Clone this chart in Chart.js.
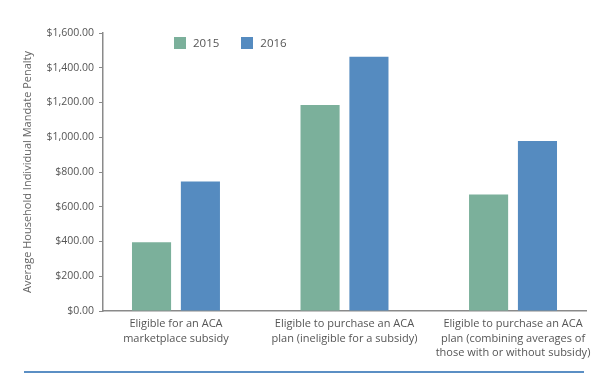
<!DOCTYPE html>
<html>
<head>
<meta charset="utf-8">
<script src="https://cdn.jsdelivr.net/npm/chart.js@4.4.1/dist/chart.umd.min.js"></script>
<style>
    html, body { margin: 0; padding: 0; background: #fff; }
    #wrap { position: relative; width: 600px; height: 377px; }
    #legend {
        position: absolute; left: 174px; top: 35px;
        font-family: 'Open Sans', sans-serif; font-size: 11.5px; color: #555;
        display: flex; gap: 22px;
    }
    #legend span.item { display: flex; align-items: center; }
    #legend span.box { width: 12px; height: 12px; margin-right: 7px; display: inline-block; }
    #rule { position: absolute; left: 24px; top: 371px; width: 560px; height: 2px; background: #5b8fc4; }
</style>
</head>
<body>
<div id="wrap">
    <canvas id="chart"></canvas>
    <div id="legend"></div>
    <div id="rule"></div>
</div>
<script>
    // Chart data
    const categories = [
        ['Eligible for an ACA', 'marketplace subsidy'],
        ['Eligible to purchase an ACA', 'plan (ineligible for a subsidy)'],
        ['Eligible to purchase an ACA', 'plan (combining averages of', 'those with or without subsidy)']
    ];
    const years = ['2015', '2016'];
    const values2015 = [395, 1185, 670];
    const values2016 = [745, 1463, 978];
    const yTicks = [0, 200, 400, 600, 800, 1000, 1200, 1400, 1600];
    const colors = ['#7bb09b', '#558bc0'];

    const font = "'Open Sans', sans-serif";

    function toPoints(values) {
        return values.map((v, i) => ({ x: i, y: v }));
    }

    function formatMoney(v) {
        return '$' + v.toLocaleString('en-US', { minimumFractionDigits: 2, maximumFractionDigits: 2 });
    }

    // Legend drawn as html so it can sit inside the plot
    const legend = document.getElementById('legend');
    years.forEach((y, i) => {
        const item = document.createElement('span');
        item.className = 'item';
        item.innerHTML = '<span class="box" style="background:' + colors[i] + '"></span>' + y;
        legend.appendChild(item);
    });

    const ctx = document.getElementById('chart').getContext('2d');
    new Chart(ctx, {
        type: 'bar',
        data: {
            datasets: [
                { label: years[0], data: toPoints(values2015), backgroundColor: colors[0] },
                { label: years[1], data: toPoints(values2016), backgroundColor: colors[1] }
            ]
        },
        options: {
            responsive: true,
            maintainAspectRatio: false,
            animation: false,
            datasets: { bar: { categoryPercentage: 0.58, barPercentage: 0.8 } },
            layout: { padding: { top: 33, right: 14, bottom: 6, left: 0 } },
            plugins: { legend: { display: false }, tooltip: { enabled: false } },
            scales: {
                x: {
                    type: 'linear',
                    offset: false,
                    min: -0.433,
                    max: 2.433,
                    afterFit: s => { s.height = 60; },
                    grid: { display: false },
                    border: { color: '#8a8a8a', width: 1.5 },
                    ticks: {
                        stepSize: 1,
                        includeBounds: false,
                        autoSkip: false,
                        maxRotation: 0,
                        padding: -2,
                        color: '#555',
                        font: { family: font, size: 11, lineHeight: 1.3 },
                        callback: v => Number.isInteger(v) && categories[v] ? categories[v] : ''
                    }
                },
                y: {
                    min: 0,
                    max: 1600,
                    afterFit: s => { s.width = 103; },
                    afterBuildTicks: s => { s.ticks = yTicks.map(v => ({ value: v })); },
                    grid: { drawOnChartArea: false, tickLength: 4, color: '#8a8a8a' },
                    border: { color: '#8a8a8a', width: 1.5 },
                    ticks: {
                        padding: 5,
                        color: '#555',
                        font: { family: font, size: 10.5 },
                        callback: v => formatMoney(v)
                    },
                    title: {
                        display: true,
                        text: 'Average Household Individual Mandate Penalty',
                        color: '#666',
                        font: { family: font, size: 11 },
                        padding: { top: 21 }
                    }
                }
            }
        }
    });
</script>
</body>
</html>
